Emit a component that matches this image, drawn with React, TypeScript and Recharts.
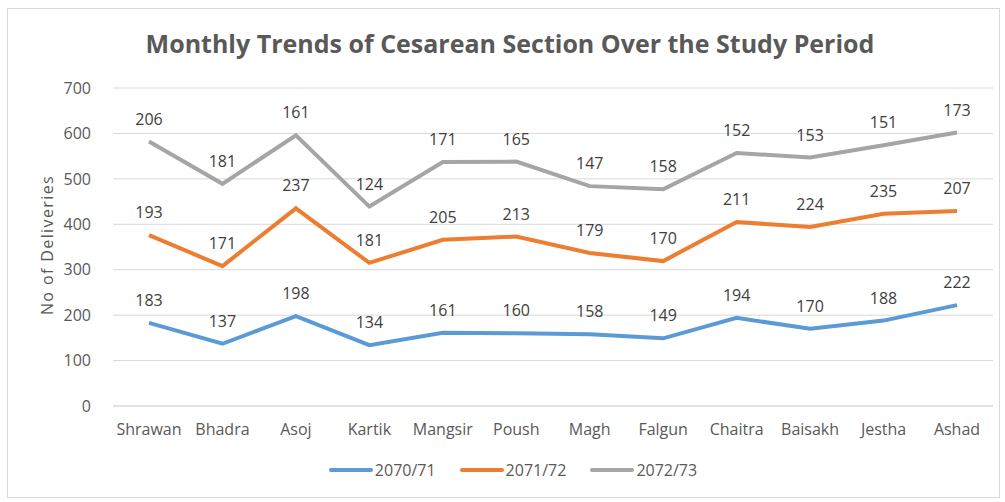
import React from "react";
import { LineChart, Line, CartesianGrid, XAxis, YAxis, LabelList } from "recharts";

// ─── Data (raw monthly counts; the chart stacks them like the Excel original) ───

const months = ["Shrawan", "Bhadra", "Asoj", "Kartik", "Mangsir", "Poush", "Magh", "Falgun", "Chaitra", "Baisakh", "Jestha", "Ashad"];
const y7071 = [183, 137, 198, 134, 161, 160, 158, 149, 194, 170, 188, 222];
const y7172 = [193, 171, 237, 181, 205, 213, 179, 170, 211, 224, 235, 207];
const y7273 = [206, 181, 161, 124, 171, 165, 147, 158, 152, 153, 151, 173];
const yTicks = [0, 100, 200, 300, 400, 500, 600, 700];

const series = [
  { key: "a", name: "2070/71", color: "#5b9bd5" },
  { key: "b", name: "2071/72", color: "#ed7d31" },
  { key: "c", name: "2072/73", color: "#a5a5a5" },
];

const data = months.map((m, i) => ({
  month: m,
  a: y7071[i],
  b: y7071[i] + y7172[i],
  c: y7071[i] + y7172[i] + y7273[i],
  aRaw: y7071[i],
  bRaw: y7172[i],
  cRaw: y7273[i],
}));

const FONT = "'Open Sans', sans-serif";
const TXT = "#595959";

export default function App() {
  return (
    <div style={{ position: "absolute", left: 0, top: 0, width: 1005, height: 502, background: "#fff", fontFamily: FONT }}>
      <div style={s.frame} />
      <div style={s.title}>Monthly Trends of Cesarean Section Over the Study Period</div>
      <div style={s.yLabel}>No of Deliveries</div>

      <LineChart width={1005} height={502} data={data} margin={{ top: 88, right: 12, bottom: 66, left: 53 }}>
        <CartesianGrid stroke="#d9d9d9" vertical={false} />
        <XAxis
          dataKey="month"
          tick={{ fill: TXT, fontSize: 16, fontFamily: FONT }}
          axisLine={{ stroke: "#d9d9d9" }}
          tickLine={false}
          tickMargin={12}
          height={30}
          interval={0}
          padding={{ left: 36, right: 36 }}
        />
        <YAxis
          domain={[0, 700]}
          ticks={yTicks}
          tick={{ fill: TXT, fontSize: 16, fontFamily: FONT }}
          axisLine={false}
          tickLine={false}
          width={60}
          tickMargin={16}
        />
        {series.map((sr) => (
          <Line
            key={sr.key}
            dataKey={sr.key}
            name={sr.name}
            stroke={sr.color}
            strokeWidth={4}
            dot={false}
            activeDot={false}
            isAnimationActive={false}
          >
            <LabelList dataKey={sr.key + "Raw"} position="top" offset={17} fill="#404040" fontSize={16} fontFamily={FONT} />
          </Line>
        ))}
      </LineChart>

      <div style={s.legend}>
        {series.map((sr) => (
          <div key={sr.key} style={s.legendItem}>
            <span style={{ ...s.swatch, background: sr.color }} />
            <span>{sr.name}</span>
          </div>
        ))}
      </div>
    </div>
  );
}

const s: Record<string, React.CSSProperties> = {
  frame:      { position: "absolute", left: 7, top: 8, width: 993, height: 490, border: "1px solid #d9d9d9", boxSizing: "border-box" },
  title:      { position: "absolute", left: 0, width: 1020, top: 26, textAlign: "center", fontSize: 25, fontWeight: 700, color: TXT },
  yLabel:     { position: "absolute", left: 47, top: 245, transform: "translate(-50%, -50%) rotate(-90deg)", whiteSpace: "nowrap", fontSize: 16, letterSpacing: 1.4, color: TXT },
  legend:     { position: "absolute", left: 0, width: 1026, top: 459, display: "flex", justifyContent: "center", gap: 24, fontSize: 16, color: TXT },
  legendItem: { display: "flex", alignItems: "center", gap: 2 },
  swatch:     { display: "inline-block", width: 44, height: 4, borderRadius: 2 },
};
